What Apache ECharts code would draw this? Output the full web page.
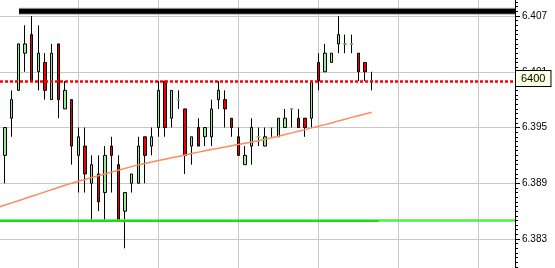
<!DOCTYPE html>
<html>
<head>
<meta charset="utf-8">
<script src="https://cdn.jsdelivr.net/npm/echarts@6/dist/echarts.min.js"></script>
<style>
html,body{margin:0;padding:0;background:#fff;overflow:hidden;width:555px;height:268px;position:relative;}
#c{position:absolute;left:-5px;top:-40px;width:560px;height:335px;}
</style>
</head>
<body>
<div id="c"></div>
<script>
// ---- data (prices) ----
const opens  = [6.392,6.396,6.399,6.403,6.405,6.401,6.402,6.398,6.404,6.397,6.398,6.392,6.393,6.389,6.390,6.388,6.393,6.391,6.386,6.389,
                6.389,6.394,6.393,6.395,6.400,6.396,6.398,6.397,6.393,6.395,6.394,6.394,6.398,6.398,6.396,6.394,6.391,6.393,6.394,6.393,
                6.395,6.394,6.395,6.397,6.396,6.396,6.396,6.402,6.401,6.402,6.404,6.404,6.404,6.403,6.402,6.400];
const closes = [6.395,6.398,6.404,6.404,6.400,6.403,6.399,6.403,6.398,6.399,6.393,6.394,6.390,6.391,6.387,6.392,6.392,6.385,6.388,6.390,
                6.393,6.392,6.394,6.399,6.395,6.399,6.398,6.392,6.394,6.393,6.395,6.397,6.399,6.397,6.395,6.392,6.392,6.395,6.394,6.394,
                6.395,6.396,6.396,6.397,6.395,6.395,6.400,6.400,6.403,6.403,6.405,6.404,6.404,6.401,6.401,6.400];
const lows   = [6.389,6.394,6.399,6.401,6.400,6.399,6.398,6.398,6.396,6.397,6.391,6.388,6.388,6.385,6.386,6.385,6.388,6.385,6.382,6.388,
                6.389,6.389,6.392,6.394,6.394,6.395,6.397,6.390,6.391,6.393,6.393,6.393,6.397,6.395,6.394,6.392,6.391,6.391,6.393,6.393,
                6.394,6.394,6.395,6.395,6.395,6.394,6.395,6.399,6.401,6.402,6.403,6.403,6.403,6.400,6.400,6.399];
const highs  = [6.395,6.399,6.404,6.406,6.407,6.406,6.403,6.404,6.404,6.400,6.398,6.395,6.395,6.392,6.392,6.393,6.394,6.392,6.388,6.390,
                6.394,6.394,6.395,6.400,6.400,6.399,6.399,6.397,6.394,6.396,6.395,6.398,6.400,6.399,6.396,6.395,6.393,6.396,6.395,6.395,
                6.395,6.396,6.397,6.397,6.397,6.396,6.400,6.403,6.404,6.403,6.407,6.405,6.405,6.403,6.402,6.401];
// moving average, first value belongs to the bar just before the visible window
const maValues = [6.38642,6.38665,6.38689,6.38712,6.38736,6.38760,6.38783,6.38807,6.38831,6.38854,6.38878,
                  6.38901,6.38921,6.38940,6.38961,6.38980,6.39000,6.39020,6.39039,6.39060,6.39079,
                  6.39098,6.39113,6.39128,6.39144,6.39159,6.39174,6.39189,6.39205,6.39220,6.39235,
                  6.39249,6.39263,6.39276,6.39290,6.39304,6.39317,6.39331,6.39345,6.39358,6.39372,
                  6.39389,6.39406,6.39425,6.39442,6.39460,6.39477,6.39496,6.39513,6.39531,6.39548,
                  6.39571,6.39589,6.39609,6.39627,6.39645,6.39664];
const resistanceLevel = 6.4075;   // thick black bar
const priceLevel = 6.400;         // red dotted line
const priceLevelLabel = '6400';
const supportLevel = 6.385;       // green line
const tickLabels = ['6.383','6.389','6.395','6.401','6.407'];
const LEAD = 1, TRAIL = 21;

// ---- build ----
const BASE = 6.383;
const toU = p => Math.round((p - BASE) * 1e6) / 1e3;
const N = LEAD + opens.length + TRAIL;
const cats = [];
for (let i = 0; i < N; i++) cats.push(String(i));
const candleData = [];
for (let i = 0; i < LEAD; i++) candleData.push(['-','-','-','-']);
for (let i = 0; i < opens.length; i++) candleData.push([toU(opens[i]), toU(closes[i]), toU(lows[i]), toU(highs[i])]);
const dojiData = [];
for (let i = 0; i < opens.length; i++) if (opens[i] === closes[i]) dojiData.push([i + LEAD, toU(closes[i])]);
const maData = maValues.map(toU);
const lastCat = cats[LEAD + opens.length];

const FONT = 'Liberation Sans, Arial, sans-serif';
const GRID_TOP = 0.25, GRID_BOTTOM = 0.25, RIGHT = 40;
const hiddenY = idx => ({type:'value', gridIndex: idx, min:-6, max:30, show:false, splitLine:{show:false}});

const option = {
  animation: false,
  backgroundColor: '#ffffff',
  textStyle: {fontFamily: FONT},
  grid: [
    {left: 0, right: RIGHT, top: GRID_TOP, bottom: GRID_BOTTOM},
    {left: 83.33, right: RIGHT, top: GRID_TOP, bottom: GRID_BOTTOM},
    {left: 24, right: RIGHT, top: GRID_TOP, bottom: GRID_BOTTOM}
  ],
  xAxis: [
    {type:'category', gridIndex:0, data: cats, boundaryGap:true, show:false},
    {type:'value', gridIndex:1, min:0, max:(520-83.33)/80, interval:1,
     axisLine:{show:false}, axisTick:{show:false}, axisLabel:{show:false},
     splitLine:{show:true, lineStyle:{color:'#c8c8c8', width:1}}},
    {type:'value', gridIndex:2, min:0, max:1, show:false, splitLine:{show:false}}
  ],
  yAxis: [
    {type:'value', gridIndex:0, position:'right', min:-6, max:30, interval:6,
     axisLine:{show:true, lineStyle:{color:'#000', width:1}},
     axisTick:{show:true, length:5, lineStyle:{color:'#000'}},
     minorTick:{show:true, splitNumber:12, length:3, lineStyle:{color:'#000'}},
     axisLabel:{color:'#000', fontSize:10, margin:7, fontFamily: FONT,
       formatter: v => { const k = Math.round(v / 6); return (k >= 0 && k < tickLabels.length) ? tickLabels[k] : ''; }},
     splitLine:{show:true, lineStyle:{color:'#c8c8c8', width:1}},
     minorSplitLine:{show:false}},
    hiddenY(1), hiddenY(2)
  ],
  series: [
    {type:'line', xAxisIndex:2, yAxisIndex:2, data:[[0,toU(resistanceLevel)],[1,toU(resistanceLevel)]],
     showSymbol:false, lineStyle:{color:'#b4b4b4', width:7}, z:3, silent:true},
    {type:'line', xAxisIndex:2, yAxisIndex:2, data:[[0,toU(resistanceLevel)],[1,toU(resistanceLevel)]],
     showSymbol:false, lineStyle:{color:'#000', width:5}, z:4, silent:true},
    {type:'candlestick', xAxisIndex:0, yAxisIndex:0, data: candleData, barWidth:3,
     itemStyle:{color:'#90ee90', color0:'#ee0000', borderColor:'#000', borderColor0:'#000', borderWidth:1},
     z:2,
     markLine:{silent:true, symbol:['none','none'], animation:false, z:6,
       data:[
         {yAxis: toU(supportLevel), lineStyle:{color:'#4cf04c', width:2.5, type:'solid'}, label:{show:false}},
         [{coord:[cats[0], toU(supportLevel)], lineStyle:{color:'#11e011', width:2, type:'solid'}, label:{show:false}},
          {coord:[lastCat, toU(supportLevel)]}],
         {yAxis: toU(priceLevel), lineStyle:{color:'#ff0000', width:2.5, type:[3,2]},
          label:{show:true, position:'end', distance:1, offset:[0,-2.5], formatter: priceLevelLabel, color:'#000', fontSize:11,
                 fontFamily: FONT, backgroundColor:'#ffffe1', borderColor:'#000', borderWidth:1, padding:[2,5,2,5]}}
       ]}},
    {type:'scatter', xAxisIndex:0, yAxisIndex:0, data: dojiData, symbol:'rect', symbolSize:[4,1.5],
     itemStyle:{color:'#8fe88f'}, z:4, silent:true},
    {type:'line', xAxisIndex:0, yAxisIndex:0, data: maData, showSymbol:false, smooth:false,
     lineStyle:{color:'#ff8a5c', width:1.5}, z:5, silent:true}
  ]
};
const chart = echarts.init(document.getElementById('c'), null, {renderer:'canvas'});
chart.setOption(option);
</script>
</body>
</html>
